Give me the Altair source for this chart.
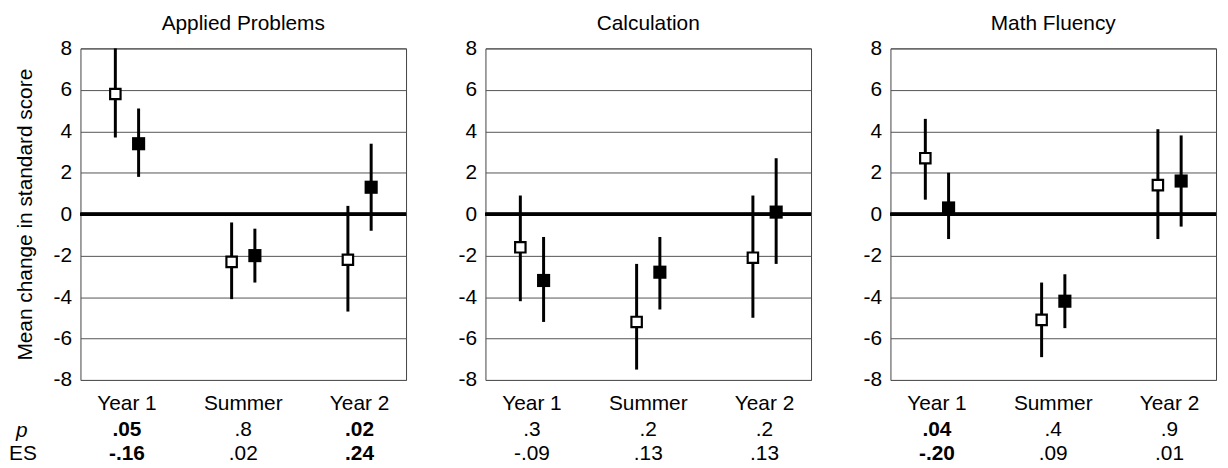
import altair as alt
import pandas as pd

FONT = "Liberation Sans"

panels = ["Applied Problems", "Calculation", "Math Fluency"]
periods = ["Year 1", "Summer", "Year 2"]
period_pos = [1, 2, 3]

# Applied Problems
ap_open_mean = [5.8, -2.3, -2.2]
ap_open_lo = [3.7, -4.1, -4.7]
ap_open_hi = [8.0, -0.4, 0.4]
ap_fill_mean = [3.4, -2.0, 1.3]
ap_fill_lo = [1.8, -3.3, -0.8]
ap_fill_hi = [5.1, -0.7, 3.4]
ap_p = [".05", ".8", ".02"]
ap_es = ["-.16", ".02", ".24"]
ap_bold = [True, False, True]

# Calculation
ca_open_mean = [-1.6, -5.2, -2.1]
ca_open_lo = [-4.2, -7.5, -5.0]
ca_open_hi = [0.9, -2.4, 0.9]
ca_fill_mean = [-3.2, -2.8, 0.1]
ca_fill_lo = [-5.2, -4.6, -2.4]
ca_fill_hi = [-1.1, -1.1, 2.7]
ca_p = [".3", ".2", ".2"]
ca_es = ["-.09", ".13", ".13"]
ca_bold = [False, False, False]

# Math Fluency
mf_open_mean = [2.7, -5.1, 1.4]
mf_open_lo = [0.7, -6.9, -1.2]
mf_open_hi = [4.6, -3.3, 4.1]
mf_fill_mean = [0.3, -4.2, 1.6]
mf_fill_lo = [-1.2, -5.5, -0.6]
mf_fill_hi = [2.0, -2.9, 3.8]
mf_p = [".04", ".4", ".9"]
mf_es = ["-.20", ".09", ".01"]
mf_bold = [True, False, False]

y_ticks = [-8, -6, -4, -2, 0, 2, 4, 6, 8]

W, H = 328, 334


def panel(name, om, olo, ohi, fm, flo, fhi, pv, ev, bold, first):
    pts = pd.DataFrame({
        "x": [p - 0.1 for p in period_pos] + [p + 0.1 for p in period_pos],
        "mean": om + fm,
        "lo": olo + flo,
        "hi": ohi + fhi,
        "group": ["open"] * 3 + ["filled"] * 3,
    })
    lab = pd.DataFrame({
        "x": period_pos,
        "period": periods,
        "p": pv,
        "es": ev,
        "bold": bold,
    })
    xenc = alt.X("x:Q", scale=alt.Scale(domain=[0.6, 3.4], nice=False, zero=False), axis=None)
    yscale = alt.Scale(domain=[-8, 8], nice=False, zero=False)
    yaxis = alt.Axis(values=y_ticks, labelExpr="'' + datum.value",
                     title="Mean change in standard score" if first else None,
                     titleFontSize=21, titleFontWeight="normal", titleFont=FONT,
                     titleColor="black", titlePadding=18)

    base = alt.Chart(pts)
    zero = alt.Chart(pts).mark_rule(color="black", strokeWidth=3).encode(
        y=alt.datum(0, scale=yscale, axis=yaxis, type="quantitative"))
    bars = base.mark_rule(color="black", strokeWidth=3).encode(
        x=xenc, y=alt.Y("lo:Q", scale=yscale, axis=yaxis), y2="hi:Q")
    open_sq = base.transform_filter(alt.datum.group == "open").mark_square(
        filled=True, fill="white", stroke="black", strokeWidth=2.2, size=110, opacity=1
    ).encode(x=xenc, y=alt.Y("mean:Q", scale=yscale, axis=yaxis))
    fill_sq = base.transform_filter(alt.datum.group == "filled").mark_square(
        filled=True, color="black", size=175, opacity=1
    ).encode(x=xenc, y=alt.Y("mean:Q", scale=yscale, axis=yaxis))

    tb = alt.Chart(lab)
    cat_txt = tb.mark_text(font=FONT, fontSize=21, baseline="alphabetic", color="black").encode(
        x=xenc, y=alt.value(H + 30), text="period:N")
    layers = [zero, bars, open_sq, fill_sq, cat_txt]
    for weight, test in (("bold", "datum.bold"), ("normal", "!datum.bold")):
        sub = tb.transform_filter(test)
        layers.append(sub.mark_text(font=FONT, fontSize=21, baseline="alphabetic",
                                    color="black", fontWeight=weight).encode(
            x=xenc, y=alt.value(H + 56), text="p:N"))
        layers.append(sub.mark_text(font=FONT, fontSize=21, baseline="alphabetic",
                                    color="black", fontWeight=weight).encode(
            x=xenc, y=alt.value(H + 81), text="es:N"))

    if first:
        row = pd.DataFrame({"row": ["p", "ES"]})
        p_lab = alt.Chart(row).transform_filter(alt.datum.row == "p").mark_text(
            font=FONT, fontSize=21, baseline="alphabetic", align="left",
            fontStyle="italic", color="black").encode(
            x=alt.value(-65), y=alt.value(H + 57), text="row:N")
        es_lab = alt.Chart(row).transform_filter(alt.datum.row == "ES").mark_text(
            font=FONT, fontSize=21, baseline="alphabetic", align="left",
            color="black").encode(
            x=alt.value(-72), y=alt.value(H + 81), text="row:N")
        layers += [p_lab, es_lab]

    return alt.layer(*layers).properties(
        width=W, height=H,
        title=alt.TitleParams(name, fontSize=21, fontWeight="normal", font=FONT,
                              color="black", offset=4, anchor="middle", frame="group"))


c1 = panel(panels[0], ap_open_mean, ap_open_lo, ap_open_hi, ap_fill_mean, ap_fill_lo,
           ap_fill_hi, ap_p, ap_es, ap_bold, True)
c2 = panel(panels[1], ca_open_mean, ca_open_lo, ca_open_hi, ca_fill_mean, ca_fill_lo,
           ca_fill_hi, ca_p, ca_es, ca_bold, False)
c3 = panel(panels[2], mf_open_mean, mf_open_lo, mf_open_hi, mf_fill_mean, mf_fill_lo,
           mf_fill_hi, mf_p, mf_es, mf_bold, False)

chart = alt.hconcat(c1, c2, c3, spacing=49).properties(
    padding={"left": 0, "top": 2, "right": 2, "bottom": 0},
    background="white",
).configure_view(stroke="#444", strokeWidth=1).configure_axis(
    grid=True, gridColor="#555", gridWidth=1, domain=False, ticks=False,
    labelFont=FONT, labelFontSize=21, labelColor="black", labelPadding=9,
)

chart.save("out.html", embed_options={"renderer": "svg", "actions": False})
